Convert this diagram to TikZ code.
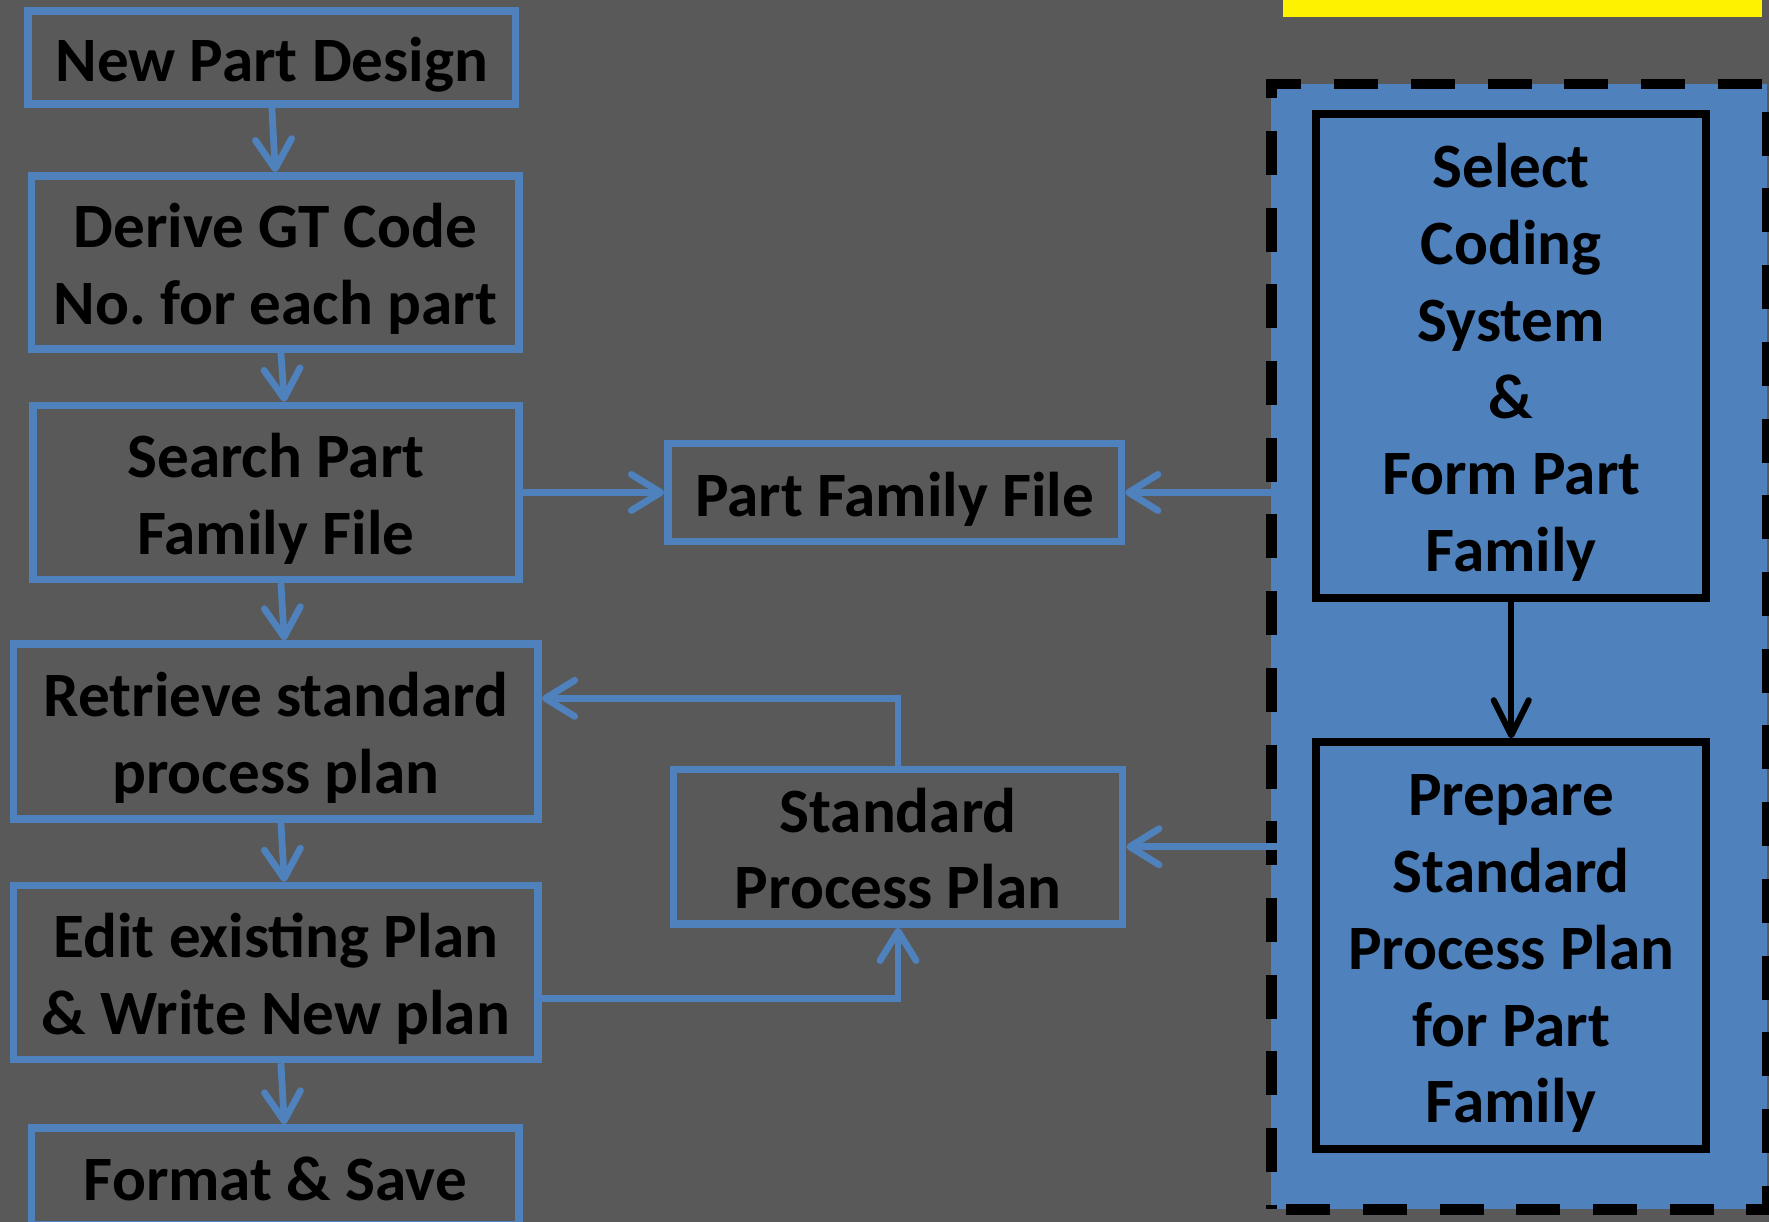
\documentclass[tikz,border=0pt]{standalone}
\usepackage{fontspec}
\setmainfont{Carlito}
\usetikzlibrary{arrows.meta}
\frenchspacing
\definecolor{bggray}{HTML}{595959}
\definecolor{officeblue}{HTML}{4F81BD}
% struts for the first line (height) and the last line (depth) of a text block
\newcommand\fs{\rule{0pt}{27.5pt}}
\newcommand\es{\rule[-6.5pt]{0pt}{6.5pt}}
\begin{document}
\begin{tikzpicture}[x=0.5pt,y=-0.5pt,
  txt/.style={font=\fontsize{28}{34}\selectfont\bfseries, text=black, align=center, inner sep=0pt},
  lbox/.style={txt, draw=officeblue, line width=3.4pt},
  rbox/.style={txt, draw=black, fill=officeblue, line width=3.6pt},
  arr/.style={draw=officeblue, line width=3pt, -{Straight Barb[length=13pt,width=16pt,round]}},
  blackarr/.style={draw=black, line width=2.7pt, -{Straight Barb[length=15.5pt,width=15.5pt,round]}},
]
% canvas
\fill[bggray] (0,0) rectangle (1568,1083);
\useasboundingbox (0,0) rectangle (1568,1083);

% title banner (runs off the top edge)
\node[fill=yellow, inner sep=0pt, minimum width=212.5pt, minimum height=17.5pt] (banner) at (1349.5,-2.5) {};

% dashed group holding the family preparation steps
\node[draw=black, fill=officeblue, line width=4.5pt, dash pattern=on 19.5pt off 14.5pt, dash phase=27.5pt,
  inner sep=0pt, minimum width=219.5pt, minimum height=498.75pt] (grp) at (1346.5,573.25) {};

% main flow
\node[lbox, minimum width=216pt, minimum height=41pt] (npd) at (241,51) {\fs New Part Design\es};
\node[lbox, minimum width=216pt, minimum height=76.75pt] (derive) at (244,232.75) {\fs Derive GT Code\\No. for each part\es};
\node[lbox, minimum width=215.5pt, minimum height=77pt] (search) at (244.5,436.5) {\fs Search Part\\Family File\es};
\node[lbox, minimum width=232.5pt, minimum height=77.5pt] (retrieve) at (244.5,648.5) {\fs Retrieve standard\\process plan\es};
\node[lbox, minimum width=232.5pt, minimum height=77pt] (edit) at (244.5,862) {\fs Edit existing Plan\\\& Write New plan\es};
\node[lbox, minimum width=216pt, minimum height=43pt] (format) at (244,1043) {\fs Format \& Save\es};

% files
\node[lbox, minimum width=201pt, minimum height=43.5pt] (pff) at (793,436.5) {\fs Part Family File\es};
\node[lbox, minimum width=199pt, minimum height=68.5pt] (spp) at (796,750.5) {\fs Standard\\Process Plan\es};

% family preparation
\node[rbox, minimum width=172.85pt, minimum height=214.5pt] (sel) at (1339.5,315.5)
  {\fs Select\\Coding\\System\\\&\\Form Part\\Family\es};
\node[rbox, minimum width=172.85pt, minimum height=180.25pt] (prep) at (1339.5,838.25)
  {\fs Prepare\\Standard\\Process Plan\\for Part\\Family\es};

% connectors
\draw[arr] (npd.south) -- (derive.north);
\draw[arr] ([xshift=2.5pt]derive.south) -- ([xshift=3.75pt]search.north);
\draw[arr] ([xshift=2.25pt]search.south) -- ([xshift=3.75pt]retrieve.north);
\draw[arr] ([xshift=2.25pt]retrieve.south) -- ([xshift=3.75pt]edit.north);
\draw[arr] ([xshift=2.25pt]edit.south) -- ([xshift=4pt]format.north);
\draw[arr] (search.east |- pff.west) -- (pff.west);
\draw[arr] (pff.east -| sel.west) -- (pff.east);
\draw[arr] (spp.east -| prep.west) -- (spp.east);
\draw[arr] (spp.north) |- ([yshift=14.75pt]retrieve.east);
\draw[arr] ([yshift=-11.5pt]edit.east) -| (spp.south);
\draw[blackarr] (sel.south) -- (prep.north);
\end{tikzpicture}
\end{document}
